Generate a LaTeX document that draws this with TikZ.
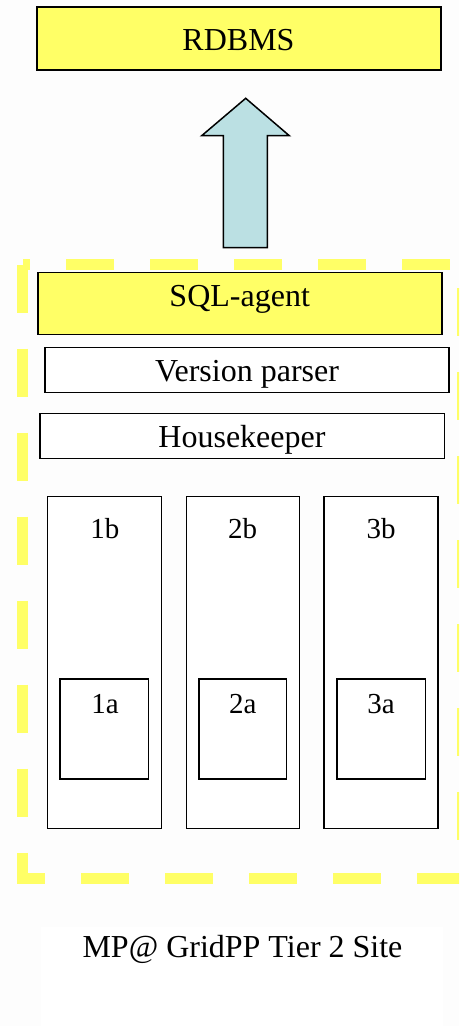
\documentclass[tikz,border=0pt]{standalone}
\usepackage{fontspec}
\setmainfont{Liberation Serif}
\definecolor{yel}{HTML}{FFFF66}
\definecolor{arrowfill}{HTML}{BBE0E3}
\definecolor{bgc}{HTML}{FDFDFD}
\begin{document}
\begin{tikzpicture}[x=1pt,y=-1pt,
  box/.style={draw=black,line width=1.5pt,inner sep=0pt,outer sep=0pt,fill=white},
  ybox/.style={box,fill=yel},
  lbl/.style={font=\fontsize{32}{38}\selectfont,anchor=base,inner sep=0pt},
  slbl/.style={font=\fontsize{29}{34}\selectfont,anchor=base,inner sep=0pt},
  border/.style={draw=yel,line width=11pt,dash pattern=on 48pt off 36pt,line cap=butt,line join=miter}]
\fill[bgc] (0,0) rectangle (459,1026);
\useasboundingbox (0,0) rectangle (459,1026);
\clip (0,0) rectangle (459,1026);
% site container
\coordinate (tl) at (22.5,264.5);
\coordinate (bl) at (22.5,878);
\coordinate (br) at (462.5,878);
\coordinate (tr) at (462.5,264.5);
\draw[border] (tl) -- (bl) -- (br) -- (tr) -- cycle;
% RDBMS
\node[ybox,minimum width=404pt,minimum height=63pt] (rdbms) at (239,38.5) {};
\node[lbl] (trdbms) at (238.5,50) {RDBMS};
% block arrow
\coordinate (tip) at (245.7,98.3);
\draw[line width=1.5pt,fill=arrowfill,line join=miter] (tip) -- (289.3,135.7) -- (267.3,135.7) -- (267.3,247.7) -- (223.3,247.7) -- (223.3,135.7) -- (201.7,135.7) -- cycle;
% layers
\node[ybox,minimum width=404.3pt,minimum height=62.4pt] (sql) at (239.9,303.5) {};
\node[lbl] (tsql) at (239.7,306.7) {SQL-agent};
\node[box,minimum width=403.7pt,minimum height=44.6pt] (vp) at (246.9,370) {};
\node[lbl] (tvp) at (247,381.7) {Version parser};
\node[box,minimum width=404.3pt,minimum height=44.6pt] (hk) at (242.2,436) {};
\node[lbl] (thk) at (242,447.3) {Housekeeper};
% columns
\node[box,minimum width=114pt,minimum height=331.6pt] (b1) at (104.7,662.5) {};
\node[box,minimum width=113pt,minimum height=331.6pt] (b2) at (242.8,662.5) {};
\node[box,minimum width=113.7pt,minimum height=331.6pt] (b3) at (380.9,662.5) {};
\node[slbl] (tb1) at (104.9,538.3) {1b};
\node[slbl] (tb2) at (242.7,538.3) {2b};
\node[slbl] (tb3) at (381,538.3) {3b};
\node[box,minimum width=88.7pt,minimum height=100pt] (a1) at (104.35,729) {};
\node[box,minimum width=87.7pt,minimum height=100pt] (a2) at (242.85,729) {};
\node[box,minimum width=88.7pt,minimum height=100pt] (a3) at (381.35,729) {};
\node[slbl] (ta1) at (105,713.3) {1a};
\node[slbl] (ta2) at (242.8,713.3) {2a};
\node[slbl] (ta3) at (381,713.3) {3a};
% caption
\node[fill=white,inner sep=0pt,minimum width=402pt,minimum height=100pt] (capbox) at (242,976.5) {};
\node[lbl] (cap) at (242.5,957.7) {MP@ GridPP Tier 2 Site};
\end{tikzpicture}
\end{document}
